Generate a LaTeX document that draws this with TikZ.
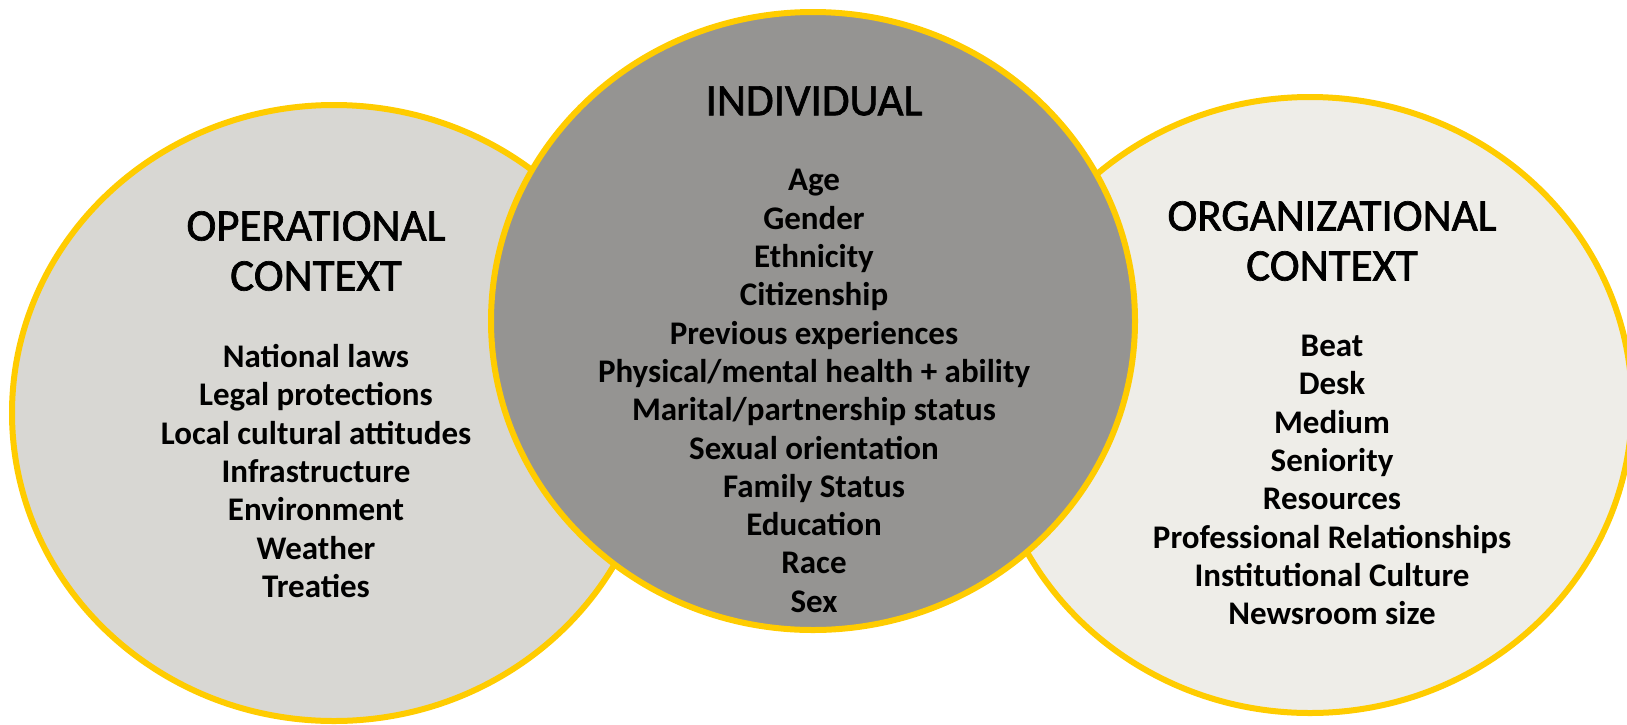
\documentclass[tikz,border=0pt]{standalone}
\usepackage{fontspec}
\setmainfont{Carlito}
\newfontface\headface{Carlito}[FakeBold=1.5]
\usetikzlibrary{shapes.geometric}

\definecolor{ringyellow}{HTML}{FFCC00}
\definecolor{operfill}{HTML}{D8D7D3}
\definecolor{indfill}{HTML}{959492}
\definecolor{orgfill}{HTML}{EEEDE8}

\begin{document}
\begin{tikzpicture}
	[x=1pt,y=1pt,
		ring/.style={ellipse,draw=ringyellow,line width=6pt,minimum width=644pt,minimum height=616pt,inner sep=0pt},
		heading/.style={align=center,font=\headface\fontsize{45}{50}\selectfont},
		items/.style={align=center,font=\bfseries\fontsize{33}{38.3}\selectfont}]

	\useasboundingbox (0,0) rectangle (1627,-724);

	% the three rings, middle one on top
	\node[ring, fill=operfill] (oper) at (334,-413) {};
	\node[ring, fill=orgfill] (org) at (1310,-405) {};
	\node[ring, fill=indfill, minimum height=618pt] (ind) at (813,-321) {};

	% operational context
	\node[heading] (operhead) at (316,-251) {OPERATIONAL\\CONTEXT};
	\node[items] (operlist) at (316,-471) {National laws\\Legal protections\\Local cultural attitudes\\Infrastructure\\Environment\\Weather\\Treaties};

	% individual
	\node[heading] (indhead) at (814,-101) {INDIVIDUAL};
	\node[items] (indlist) at (814,-391) {Age\\Gender\\Ethnicity\\Citizenship\\Previous experiences\\Physical/mental health + ability\\Marital/partnership status\\Sexual orientation\\Family Status\\Education\\Race\\Sex};

	% organizational context
	\node[heading] (orghead) at (1332,-241) {ORGANIZATIONAL\\CONTEXT};
	\node[items] (orglist) at (1332,-480) {Beat\\Desk\\Medium\\Seniority\\Resources\\Professional Relationships\\Institutional Culture\\Newsroom size};

\end{tikzpicture}
\end{document}
